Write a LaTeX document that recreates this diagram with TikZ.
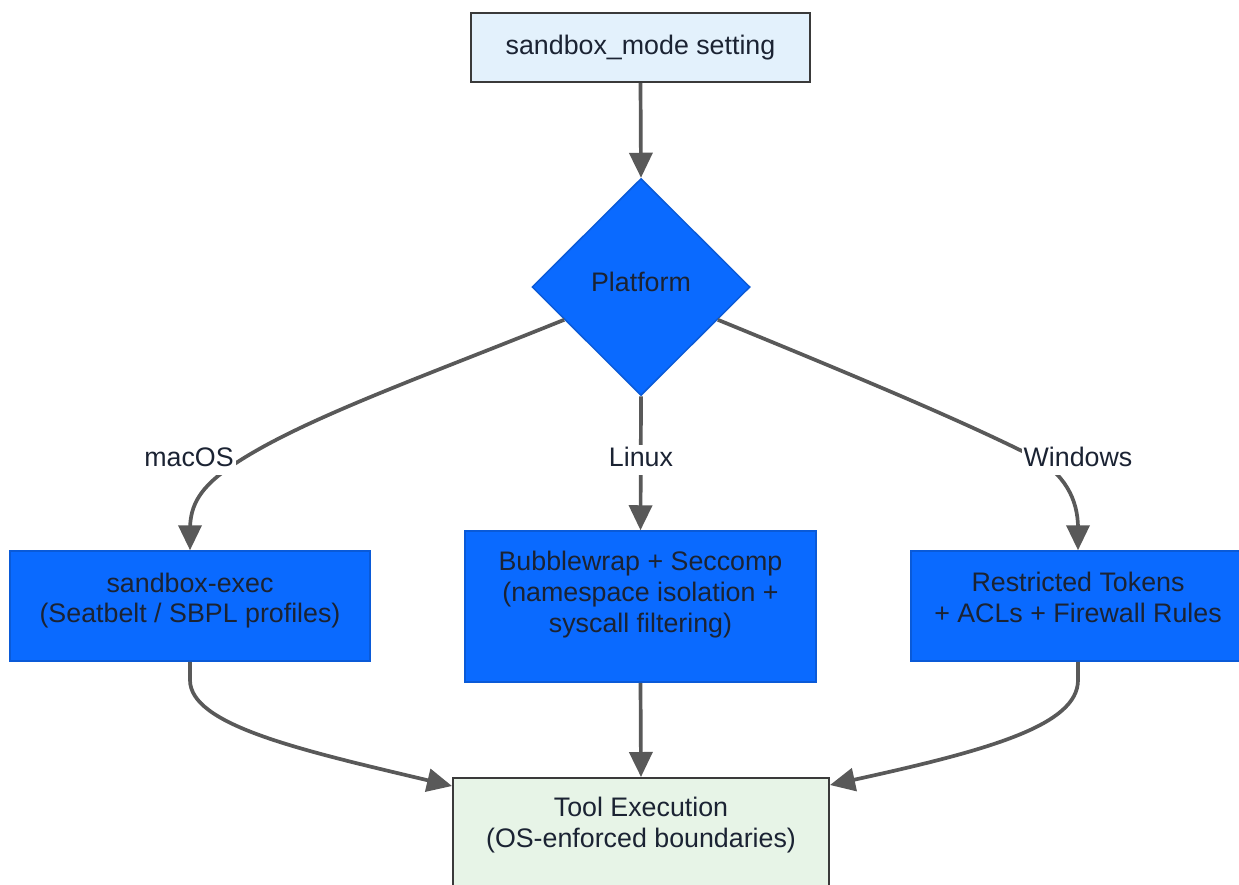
\documentclass[tikz,border=0pt]{standalone}
\usepackage{fontspec}
\setmainfont{Liberation Sans}
\usetikzlibrary{arrows.meta,shapes.geometric,calc}
\definecolor{edgec}{HTML}{595959}
\definecolor{txtc}{HTML}{1B2333}
\definecolor{bluef}{HTML}{0A6AFF}
\definecolor{blued}{HTML}{0A5AD8}
\definecolor{topf}{HTML}{E3F1FC}
\definecolor{botf}{HTML}{E7F4E7}
\definecolor{boxd}{HTML}{3A3A3A}
\begin{document}
\begin{tikzpicture}[x=1pt,y=-1pt,
  every node/.style={font=\fontsize{26.8pt}{31pt}\selectfont, text=txtc},
  box/.style={draw, rectangle, inner sep=0pt},
  pale/.style={box, draw=boxd, line width=2pt},
  bluebox/.style={box, fill=bluef, draw=blued, line width=1.5pt},
  txtline/.style={anchor=base, inner sep=0pt},
  edge/.style={draw=edgec, line width=3.7pt, -{Triangle[length=25pt,width=23pt]}},
  lbl/.style={anchor=base, fill=white, inner sep=2pt, text height=20pt, text depth=6pt}
]
\clip (0,0) rectangle (1239,884);
\fill[white] (0,0) rectangle (1239,884);

% nodes
\node[pale, fill=topf, minimum width=339pt, minimum height=69pt] (top) at (640.5,47.5) {};
\node[txtline] (topt) at (640.5,54.5) {sandbox\_mode setting};

\node[diamond, fill=bluef, draw=blued, line width=1.5pt, minimum width=218pt, minimum height=217pt, inner sep=0pt] (plat) at (641,287) {};
\node[txtline] (platt) at (641,291.7) {Platform};

\node[bluebox, minimum width=360pt, minimum height=110pt] (mac) at (190,606) {};
\node[txtline] (mact1) at (190,592) {sandbox-exec};
\node[txtline] (mact2) at (190,622) {(Seatbelt / SBPL profiles)};

\node[bluebox, minimum width=351pt, minimum height=151pt] (mid) at (640.5,606.5) {};
\node[txtline] (midt1) at (640.5,570) {Bubblewrap + Seccomp};
\node[txtline] (midt2) at (640.5,601) {(namespace isolation +};
\node[txtline] (midt3) at (640.5,632) {syscall filtering)};

\node[bluebox, minimum width=334pt, minimum height=110pt] (win) at (1078,606) {};
\node[txtline] (wint1) at (1078,591) {Restricted Tokens};
\node[txtline] (wint2) at (1078,622) {+ ACLs + Firewall Rules};

\node[pale, fill=botf, minimum width=376pt, minimum height=110pt] (tool) at (641,833) {};
\node[txtline] (toolt1) at (641,816.7) {Tool Execution};
\node[txtline] (toolt2) at (641,847) {(OS-enforced boundaries)};

% connectors
\draw[edge] (top.south) -- (plat.north);
\draw[edge] ($(plat.west)!0.3!(plat.south)$) .. controls (420,378) and (300,420) .. (233,465)
   .. controls (200,487) and (190,505) .. (190,530) -- (mac.north);
\draw[edge] (plat.south) -- (mid.north);
\draw[edge] ($(plat.east)!0.3!(plat.south)$) .. controls (860,378) and (960,420) .. (1030,455)
   .. controls (1065,472.5) and (1078,500) .. (1078,528) -- (win.north);
\draw[edge] (mac.south) -- (190,680) .. controls (190,725) and (300,750) .. ($(tool.north west)+(0,9)$);
\draw[edge] (mid.south) -- (tool.north);
\draw[edge] (win.south) -- (1078,680) .. controls (1078,725) and (990,750) .. ($(tool.north east)+(0,8)$);

% edge labels
\node[lbl] (lmac) at (189,466.7) {macOS};
\node[lbl] (llin) at (641,466.7) {Linux};
\node[lbl] (lwin) at (1078,466.7) {Windows};
\end{tikzpicture}
\end{document}
